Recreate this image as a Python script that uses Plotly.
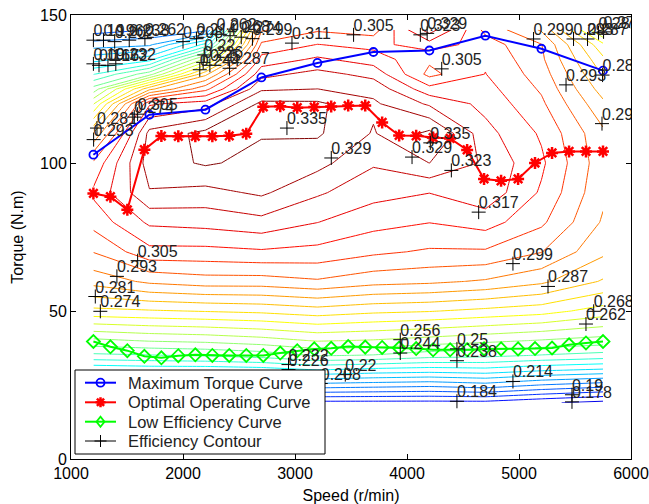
import plotly.graph_objects as go

# ---------------- data ----------------
speed_grid = [1200, 1700, 2200, 2700, 3200, 3700, 4200, 4700, 5200, 5750]
torque_grid = [19, 25, 30, 35, 40, 50, 60, 70, 80, 90, 100, 110, 120, 125, 130, 135, 140, 145]

# efficiency read along each speed column (bottom -> top of torque_grid)
eff_1200 = [0.183, 0.203, 0.221, 0.237, 0.249, 0.273, 0.289, 0.299, 0.307, 0.312, 0.306, 0.287, 0.262, 0.247, 0.232, 0.218, 0.205, 0.193]
eff_1700 = [0.183, 0.204, 0.222, 0.238, 0.251, 0.274, 0.294, 0.309, 0.318, 0.3285, 0.332, 0.331, 0.316, 0.285, 0.248, 0.224, 0.207, 0.196]
eff_2200 = [0.183, 0.204, 0.222, 0.239, 0.252, 0.275, 0.296, 0.309, 0.319, 0.327, 0.3358, 0.3368, 0.320, 0.303, 0.285, 0.258, 0.228, 0.200]
eff_2700 = [0.183, 0.204, 0.223, 0.241, 0.254, 0.276, 0.296, 0.310, 0.321, 0.330, 0.333, 0.3355, 0.3365, 0.328, 0.321, 0.313, 0.306, 0.298]
eff_3200 = [0.182, 0.206, 0.226, 0.245, 0.257, 0.278, 0.298, 0.309, 0.317, 0.3238, 0.331, 0.3358, 0.3362, 0.329, 0.325, 0.318, 0.311, 0.304]
eff_3700 = [0.182, 0.205, 0.224, 0.244, 0.256, 0.276, 0.295, 0.306, 0.313, 0.319, 0.3236, 0.3285, 0.330, 0.327, 0.321, 0.314, 0.309, 0.302]
eff_4200 = [0.182, 0.204, 0.223, 0.241, 0.254, 0.275, 0.294, 0.304, 0.311, 0.317, 0.329, 0.3365, 0.322, 0.313, 0.303, 0.306, 0.314, 0.326]
eff_4700 = [0.182, 0.206, 0.224, 0.240, 0.252, 0.273, 0.292, 0.304, 0.3135, 0.321, 0.322, 0.319, 0.315, 0.313, 0.311, 0.310, 0.308, 0.303]
eff_5200 = [0.179, 0.202, 0.221, 0.238, 0.250, 0.271, 0.288, 0.299, 0.306, 0.310, 0.312, 0.310, 0.306, 0.304, 0.302, 0.300, 0.299, 0.292]
eff_5750 = [0.176, 0.199, 0.219, 0.236, 0.248, 0.266, 0.280, 0.288, 0.292, 0.294, 0.295, 0.294, 0.288, 0.284, 0.280, 0.276, 0.270, 0.255]

max_speed = [1200, 1700, 2200, 2700, 3200, 3700, 4200, 4700, 5200, 5750]
max_torque = [102.8, 116.3, 118.0, 128.9, 133.8, 137.5, 138.0, 143.0, 138.6, 131.2]

curve_speed = [1200, 1352, 1503, 1655, 1807, 1958, 2110, 2262, 2413, 2565, 2717, 2868, 3020, 3172, 3323,
               3475, 3627, 3778, 3930, 4082, 4233, 4385, 4537, 4688, 4840, 4992, 5143, 5295, 5447, 5598, 5750]
opt_torque = [89.7, 88.6, 84.2, 104.5, 109.1, 109.0, 109.0, 109.0, 109.2, 109.9, 119.0, 119.2, 118.7, 118.9, 119.1,
              119.4, 119.4, 113.7, 109.3, 109.2, 108.6, 108.3, 104.4, 94.6, 94.0, 94.6, 100.0, 103.4, 103.9, 103.9, 103.9]
low_torque = [39.7, 37.9, 36.6, 34.7, 34.2, 34.9, 35.2, 35.0, 35.0, 35.0, 35.0, 35.8, 36.6, 37.2, 37.4,
              38.0, 37.8, 37.7, 37.5, 37.3, 36.9, 36.9, 36.9, 37.2, 37.2, 37.2, 37.3, 37.5, 38.6, 39.2, 39.7]

label_speed = [5473, 5473, 4446, 4946, 3230, 3449, 2942, 2942, 4446, 3940, 4446, 3940, 5598, 5667,
               1262, 1217, 5259, 1410, 4946, 1595, 4640, 4396, 3324, 4045, 2928, 4208,
               4310, 3523, 4119, 4180, 2973, 2416, 5130, 5420, 5746, 5741, 5487, 5612, 5710, 5755,
               1202, 1232, 1565, 1595,
               1200, 1290, 1390, 1520, 1660, 1200, 1250, 1330, 1400, 2000, 2120, 2180, 2240, 2300, 2420, 2520, 2620, 2150, 2190]
label_torque = [19.3, 21.7, 19.5, 26.2, 25.5, 28.5, 30.2, 31.9, 33.2, 35.8, 37.2, 40.3, 45.6, 49.9,
                49.9, 54.9, 58.3, 61.7, 66.0, 67.0, 83.4, 97.5, 101.7, 102.0, 111.8, 106.8,
                131.8, 143.3, 143.3, 143.8, 140.5, 132.0, 141.9, 126.4, 129.7, 113.3, 141.9, 141.9, 144.0, 144.3,
                107.9, 111.8, 115.5, 116.5,
                141.5, 141.5, 141.0, 141.5, 142.0, 133.5, 133.0, 133.0, 133.5, 141.0, 142.0, 134.0, 133.0, 143.5, 143.0, 142.5, 142.0, 131.5, 136.5]
label_text = ["0.178", "0.19", "0.184", "0.214", "0.208", "0.22", "0.226", "0.232", "0.238", "0.244", "0.25", "0.256", "0.262", "0.268",
              "0.274", "0.281", "0.287", "0.293", "0.299", "0.305", "0.317", "0.323", "0.329", "0.329", "0.335", "0.335",
              "0.305", "0.305", "0.323", "0.329", "0.311", "0.287", "0.299", "0.293", "0.28", "0.29", "0.293", "0.287", "0.281", "0.274",
              "0.293", "0.281", "0.274", "0.305",
              "0.19", "0.196", "0.202", "0.238", "0.262", "0.19", "0.166", "0.172", "0.232", "0.208", "0.214", "0.226", "0.25", "0.262", "0.268", "0.274", "0.299", "0.244", "0.22"]

legend_names = ["Maximum Torque Curve", "Optimal Operating Curve", "Low Efficiency Curve", "Efficiency Contour"]

# ---------------- styling / layout constants ----------------
W, H = 649, 504
ML, MR, MT, MB = 71, 18, 15, 45
PW, PH = W - ML - MR, H - MT - MB
FONT = "Liberation Sans, Arial, sans-serif"

jet = [[0.0, 'rgb(0,0,128)'], [0.125, 'rgb(0,0,255)'], [0.375, 'rgb(0,255,255)'],
       [0.625, 'rgb(255,255,0)'], [0.875, 'rgb(255,0,0)'], [1.0, 'rgb(128,0,0)']]


def fx(px):  # figure pixel -> paper x
    return (px - ML) / PW


def fy(py):  # figure pixel -> paper y
    return (H - MB - py) / PH


# ---------------- figure ----------------
eff_columns = [eff_1200, eff_1700, eff_2200, eff_2700, eff_3200, eff_3700, eff_4200, eff_4700, eff_5200, eff_5750]
z = [[col[i] for col in eff_columns] for i in range(len(torque_grid))]

fig = go.Figure()
fig.add_trace(go.Contour(
    x=speed_grid, y=torque_grid, z=z, autocontour=False,
    contours=dict(start=0.1599, end=0.3352, size=0.006038, coloring='lines', showlabels=False),
    line=dict(width=1, smoothing=0),
    colorscale=jet, showscale=False, showlegend=False, hoverinfo='skip'))

fig.add_trace(go.Scatter(
    x=max_speed, y=max_torque, mode='lines+markers', name=legend_names[0], showlegend=False,
    line=dict(color='#0000ff', width=2),
    marker=dict(symbol='circle-open', size=8, color='#0000ff', line=dict(width=1.8, color='#0000ff'))))
fig.add_trace(go.Scatter(
    x=curve_speed, y=opt_torque, mode='lines+markers', name=legend_names[1], showlegend=False,
    line=dict(color='#ff0000', width=2),
    marker=dict(symbol='asterisk-open', size=10, color='#ff0000', line=dict(width=2.5, color='#ff0000'))))
fig.add_trace(go.Scatter(
    x=curve_speed, y=low_torque, mode='lines+markers', name=legend_names[2], showlegend=False,
    line=dict(color='#00ff00', width=2),
    marker=dict(symbol='diamond-open', size=10, color='#00ff00', line=dict(width=1.8, color='#00ff00'))))
# contour label markers
fig.add_trace(go.Scatter(
    x=label_speed, y=label_torque, mode='markers', name=legend_names[3], showlegend=False,
    marker=dict(symbol='cross-thin-open', size=10, color='black', line=dict(width=1, color='black')),
    hoverinfo='skip'))
# contour label texts
fig.add_trace(go.Scatter(
    x=label_speed, y=label_torque, mode='text', text=label_text,
    textposition='top right', textfont=dict(family=FONT, size=16, color='#222222'),
    showlegend=False, hoverinfo='skip', cliponaxis=True))

# ---- MATLAB-style legend box (drawn in paper coordinates) ----
row_py = [382.7, 402.3, 421.7, 441.0]
line_colors = ['#0000ff', '#ff0000', '#00ff00', '#000000']
line_widths = [2, 2, 2, 1]
shapes = [dict(type='rect', xref='paper', yref='paper', layer='above',
               x0=fx(75), x1=fx(325), y0=fy(454), y1=fy(370),
               line=dict(color='black', width=1), fillcolor='white')]
glyph_paths = [None,
               "M-5,0H5M0,-5V5M-3.6,-3.6L3.6,3.6M-3.6,3.6L3.6,-3.6",
               "M0,-5L4,0L0,5L-4,0Z",
               "M-6,0H6M0,-6V6"]
glyph_widths = [1.8, 2.5, 1.8, 1]
annotations = []
for i, name in enumerate(legend_names):
    yy = fy(row_py[i])
    shapes.append(dict(type='line', xref='paper', yref='paper', layer='above',
                       x0=fx(85), x1=fx(116), y0=yy, y1=yy,
                       line=dict(color=line_colors[i], width=line_widths[i])))
    if glyph_paths[i] is None:
        shapes.append(dict(type='circle', xref='paper', yref='paper', layer='above',
                           xsizemode='pixel', ysizemode='pixel', xanchor=fx(100.5), yanchor=yy,
                           x0=-4, x1=4, y0=-4, y1=4,
                           line=dict(color=line_colors[i], width=glyph_widths[i]),
                           fillcolor='rgba(0,0,0,0)'))
    else:
        shapes.append(dict(type='path', xref='paper', yref='paper', layer='above',
                           xsizemode='pixel', ysizemode='pixel', xanchor=fx(100.5), yanchor=yy,
                           path=glyph_paths[i],
                           line=dict(color=line_colors[i], width=glyph_widths[i]),
                           fillcolor='rgba(0,0,0,0)'))
    annotations.append(dict(text=name, xref='paper', yref='paper', x=fx(126), y=yy,
                            xanchor='left', yanchor='middle', showarrow=False,
                            font=dict(family=FONT, size=16.5, color='#222222')))

fig.update_layout(
    width=W, height=H,
    margin=dict(l=ML, r=MR, t=MT, b=MB, autoexpand=False),
    paper_bgcolor='white', plot_bgcolor='white',
    font=dict(family=FONT, size=16, color='black'),
    showlegend=False,
    shapes=shapes, annotations=annotations,
)
fig.update_xaxes(range=[1000, 6000], tickvals=[1000, 2000, 3000, 4000, 5000, 6000],
                 ticks='inside', ticklen=5, tickcolor='black', showline=True, linecolor='black',
                 linewidth=1, mirror='ticks', showgrid=False, zeroline=False, automargin=False,
                 title=dict(text='Speed (r/min)', standoff=8, font=dict(size=16)),
                 tickfont=dict(size=16))
fig.update_yaxes(range=[0, 150], tickvals=[0, 50, 100, 150],
                 ticks='inside', ticklen=5, tickcolor='black', showline=True, linecolor='black',
                 linewidth=1, mirror='ticks', showgrid=False, zeroline=False, automargin=False,
                 title=dict(text='Torque (N.m)', standoff=12, font=dict(size=16)),
                 tickfont=dict(size=16))

fig.write_html("out.html", config={'displayModeBar': False},
               post_script="document.body.style.margin='0px';")
